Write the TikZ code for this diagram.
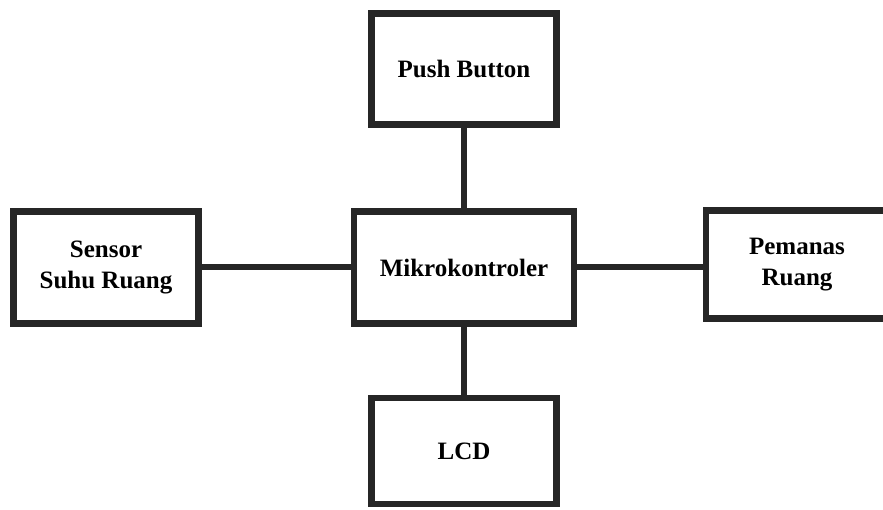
\documentclass[tikz,border=0pt]{standalone}
\usepackage{fontspec}
\setmainfont{Liberation Serif}
\usetikzlibrary{positioning}

\begin{document}
\begin{tikzpicture}[
    x = 1pt, y = -1pt,
    blok/.style = {draw = black!85, line width = 6.5pt, fill = white,
                   align = center, inner sep = 0pt,
                   font = \fontsize{25}{31}\selectfont\bfseries},
    hub/.style  = {draw = black!85, line width = 6pt},
  ]
    \useasboundingbox (0,0) rectangle (883,510);

    %% ── Blocks ───────────────────────────────────────────────────
    \node[blok, minimum width = 220pt, minimum height = 112pt] (MK)
      at (464,267.5) {Mikrokontroler};
    \node[blok, minimum width = 185pt, minimum height = 111pt] (PB)
      at (464,69) {Push Button};
    \node[blok, minimum width = 185pt, minimum height = 106pt] (LCD)
      at (464,451) {LCD};
    \node[blok, minimum width = 185pt, minimum height = 112pt] (SR)
      at (106,267.5) {Sensor\\Suhu Ruang};
    \node[blok, minimum width = 182pt, minimum height = 108pt] (PR)
      at (797,264.5) {Pemanas\\Ruang};

    %% ── Connectors ───────────────────────────────────────────────
    \draw[hub] (PB) -- (MK);
    \draw[hub] (MK) -- (LCD);
    \draw[hub] (SR) -- (MK);
    \draw[hub] (MK.east) -- (MK.east -| PR.west);
\end{tikzpicture}
\end{document}
